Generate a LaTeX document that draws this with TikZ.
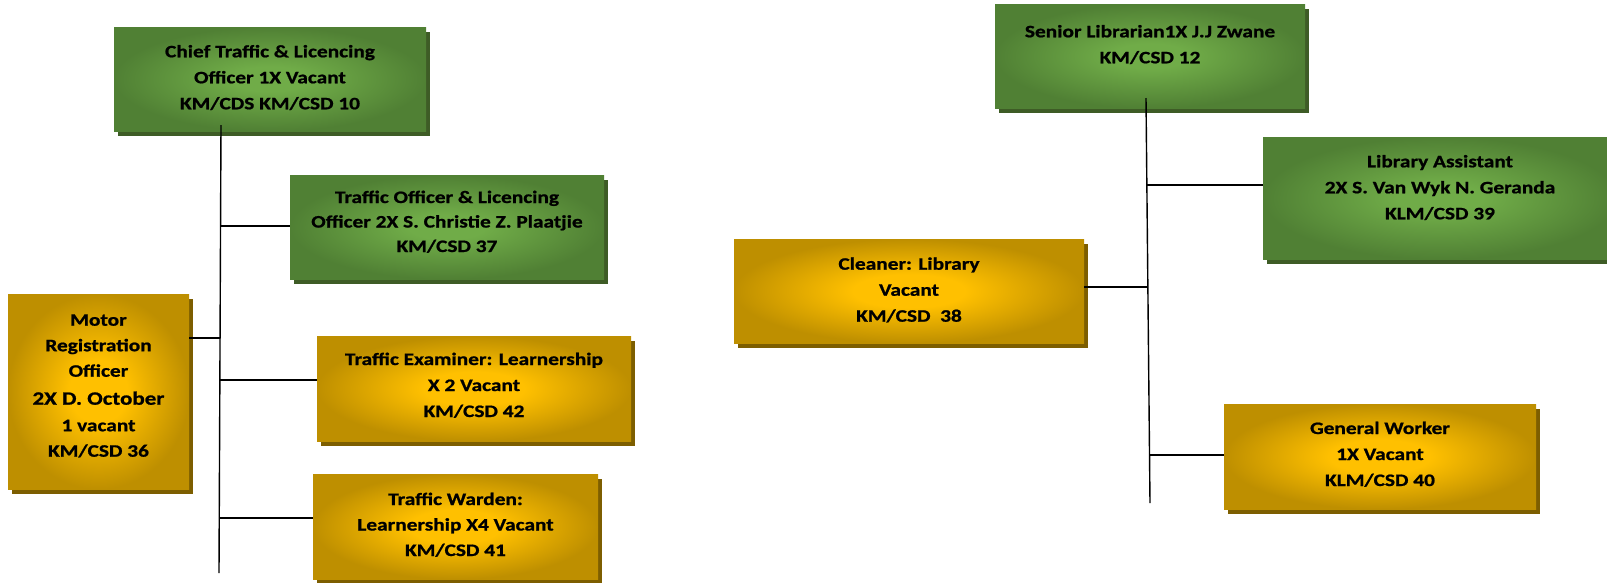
\documentclass[tikz,border=0pt]{standalone}
\usepackage{fontspec}
\setmainfont{Carlito}[FakeStretch=1.22, BoldFeatures={FakeBold=1.0}]
\usetikzlibrary{shadows}

% card colours
\definecolor{greenin}{RGB}{112,172,72}
\definecolor{greenout}{RGB}{80,128,52}
\definecolor{greenshade}{RGB}{62,92,38}
\definecolor{goldin}{RGB}{255,192,0}
\definecolor{goldout}{RGB}{190,143,0}
\definecolor{goldshade}{RGB}{125,94,0}

\pgfdeclareradialshading{greenglow}{\pgfpoint{0bp}{0bp}}{%
  color(0bp)=(greenin); color(6bp)=(greenin); color(25bp)=(greenout); color(50bp)=(greenout)}
\pgfdeclareradialshading{goldglow}{\pgfpoint{0bp}{0bp}}{%
  color(0bp)=(goldin); color(8bp)=(goldin); color(25bp)=(goldout); color(50bp)=(goldout)}

\tikzset{
  card/.style={inner sep=0pt, outer sep=0pt, draw=none},
  greencard/.style={card, shading=greenglow,
    drop shadow={fill=greenshade, opacity=1, shadow xshift=4pt, shadow yshift=-5pt}},
  goldcard/.style={card, shading=goldglow,
    drop shadow={fill=goldshade, opacity=1, shadow xshift=4pt, shadow yshift=-5pt}},
  % anchored at the baseline of the last line
  cardtext/.style={font=\bfseries\fontsize{17.5}{26}\selectfont, align=center,
    inner sep=0pt, anchor=base, text=black},
  link/.style={line width=1.4pt, black},
}

\begin{document}
\begin{tikzpicture}[x=1pt,y=-1pt]
\useasboundingbox (0,0) rectangle (1607,582);

% ---------- traffic section ----------
\node[greencard, minimum width=312pt, minimum height=104pt] (chief) at (270,79) {};
\node[greencard, minimum width=314pt, minimum height=104pt] (toff) at (447,227) {};
\node[goldcard, minimum width=181pt, minimum height=195pt] (motor) at (98.5,391.5) {};
\node[goldcard, minimum width=314pt, minimum height=105pt] (exam) at (474,388.5) {};
\node[goldcard, minimum width=285pt, minimum height=105pt] (warden) at (455.5,526.5) {};

\node[cardtext] (chief-t) at (270,109.3)
  {Chief Traffic \& Licencing\\Officer 1X Vacant\\KM/CDS KM/CSD 10};
\node[cardtext, font=\bfseries\fontsize{17.5}{24.5}\selectfont] (toff-t) at (447,252)
  {Traffic Officer \& Licencing\\Officer 2X S. Christie Z. Plaatjie\\KM/CSD 37};
\node[cardtext, font=\bfseries\fontsize{17.5}{25.5}\selectfont] (motor-t) at (98.5,456.7)
  {Motor\\Registration\\Officer\\[2.5pt]{\fontsize{18.8}{28}\selectfont 2X D. October}\\[1pt]1 vacant\\KM/CSD 36};
\node[cardtext] (exam-t) at (474,417)
  {Traffic Examiner: Learnership\\X 2 Vacant\\KM/CSD 42};
\node[cardtext, font=\bfseries\fontsize{17.5}{25.5}\selectfont] (warden-t) at (455.5,556)
  {Traffic Warden:\\Learnership X4 Vacant\\KM/CSD 41};

\coordinate (ltop) at (221,125);
\coordinate (lbot) at (219,573);
\coordinate (l1) at (220.5,226);
\coordinate (l2) at (220,338);
\coordinate (l3) at (219.8,380);
\coordinate (l4) at (219.3,518);
\draw[link] (ltop) -- (lbot);
\draw[link] (l1) -- (toff.west |- l1);
\draw[link] (motor.east |- l2) -- (l2);
\draw[link] (l3) -- (exam.west |- l3);
\draw[link] (l4) -- (warden.west |- l4);

% ---------- library section ----------
\node[greencard, minimum width=310pt, minimum height=104pt] (senior) at (1150,56) {};
\node[greencard, minimum width=354pt, minimum height=122pt] (libass) at (1440,198) {};
\node[goldcard, minimum width=350pt, minimum height=104pt] (cleaner) at (909,291) {};
\node[goldcard, minimum width=312pt, minimum height=105pt] (general) at (1380,456.5) {};

\node[cardtext] (senior-t) at (1150,63.3)
  {Senior Librarian1X J.J Zwane\\KM/CSD 12};
\node[cardtext] (libass-t) at (1440,219.3)
  {Library Assistant\\2X S. Van Wyk N. Geranda\\KLM/CSD 39};
\node[cardtext] (cleaner-t) at (909,321.7)
  {Cleaner: Library\\Vacant\\KM/CSD\ \ 38};
\node[cardtext] (general-t) at (1380,486)
  {General Worker\\1X Vacant\\KLM/CSD 40};

\coordinate (rtop) at (1146,98);
\coordinate (rbot) at (1150,503);
\coordinate (r1) at (1147,185);
\coordinate (r2) at (1148,287);
\coordinate (r3) at (1149.5,455);
\draw[link] (rtop) -- (rbot);
\draw[link] (r1) -- (libass.west |- r1);
\draw[link] (cleaner.east |- r2) -- (r2);
\draw[link] (r3) -- (general.west |- r3);
\end{tikzpicture}
\end{document}
